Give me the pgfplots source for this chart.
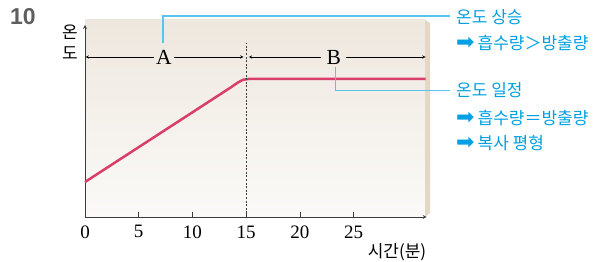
\documentclass[border=0pt]{standalone}
\usepackage{pgfplots}
\pgfplotsset{compat=1.18}
\usepackage{fontspec}
\setmainfont{Liberation Serif}
\newfontfamily\kr{Noto Sans CJK KR}
\newfontfamily\dv{DejaVu Sans}
\newfontfamily\hv{Liberation Sans}
\definecolor{linepink}{RGB}{216,62,104}
\definecolor{callblue}{RGB}{0,160,226}
\definecolor{lineblue}{RGB}{90,195,240}
\definecolor{bgtop}{RGB}{238,231,222}
\definecolor{bgbot}{RGB}{251,250,248}
\definecolor{shadowc}{RGB}{228,215,197}
\definecolor{axgray}{RGB}{60,60,60}
\definecolor{numgray}{RGB}{95,95,95}
\begin{document}
\begin{tikzpicture}[x=1pt,y=1pt]
\path[use as bounding box] (0,0) rectangle (598,262);
\shade[top color=bgtop,bottom color=bgbot] (85,45) rectangle (425,242);
\fill[shadowc] (425,242) -- (430,239) -- (430,49) -- (425,45) -- cycle;
\begin{axis}[
  at={(85pt,45pt)}, anchor=south west,
  scale only axis, width=341.7pt, height=192pt,
  xmin=0, xmax=31.8, ymin=0, ymax=192,
  axis lines=left,
  axis line style={axgray, line width=0.8pt, -stealth},
  xtick={0,5,10,15,20,25}, ytick=\empty,
  tick align=inside, major tick length=5pt,
  tick style={axgray, line width=0.8pt},
  xticklabel style={font=\fontsize{19}{19}\selectfont, text=black, yshift=-5pt},
  /pgf/number format/assume math mode=true,
  clip=false,
]
\addplot[linepink, line width=2.5pt, line join=round, mark=none] coordinates {(0,35) (13.6,129.8) (14.2,134.3) (14.7,137.2) (15.2,138) (31.7,138)};
\draw[axgray, dash pattern=on 2pt off 1.6pt, line width=0.6pt] (axis cs:15,0) -- (axis cs:15,174);
\draw[-stealth, line width=0.5pt] (axis cs:6.4,160) -- (axis cs:0.05,160);
\draw[-stealth, line width=0.5pt] (axis cs:8.3,160) -- (axis cs:14.75,160);
\draw[-stealth, line width=0.5pt] (axis cs:22.0,160) -- (axis cs:15.25,160);
\draw[-stealth, line width=0.5pt] (axis cs:24.3,160) -- (axis cs:31.7,160);
\node[font=\fontsize{21.5}{21.5}\selectfont] at (axis cs:7.35,160) {A};
\node[font=\fontsize{21.5}{21.5}\selectfont] at (axis cs:23.15,160) {B};
\end{axis}
\draw[lineblue, line width=1.4pt] (163,219) -- (163,246) -- (450,246);
\draw[lineblue, line width=0.8pt] (335,195) -- (335,172) -- (450,172);
\begin{scope}[every node/.style={anchor=west, inner sep=0pt, text=callblue, font=\kr\fontsize{17}{17}\selectfont}]
\node at (456,245) {온도 상승};
\node at (456,219) {{\dv\fontsize{22}{22}\selectfont ➡}\hspace{3pt}흡수량＞방출량};
\node at (456,172) {온도 일정};
\node at (456,144) {{\dv\fontsize{22}{22}\selectfont ➡}\hspace{3pt}흡수량＝방출량};
\node at (456,119) {{\dv\fontsize{22}{22}\selectfont ➡}\hspace{3pt}복사 평형};
\end{scope}
\node[font=\hv\bfseries\fontsize{23}{23}\selectfont, text=numgray] at (23,245.5) {10};
\node[font=\kr\fontsize{17}{21}\selectfont, align=center, inner sep=0pt] at (70,220) {온\\도};
\node[font=\kr\fontsize{17}{17}\selectfont] at (397,10) {시간(분)};
\end{tikzpicture}
\end{document}
